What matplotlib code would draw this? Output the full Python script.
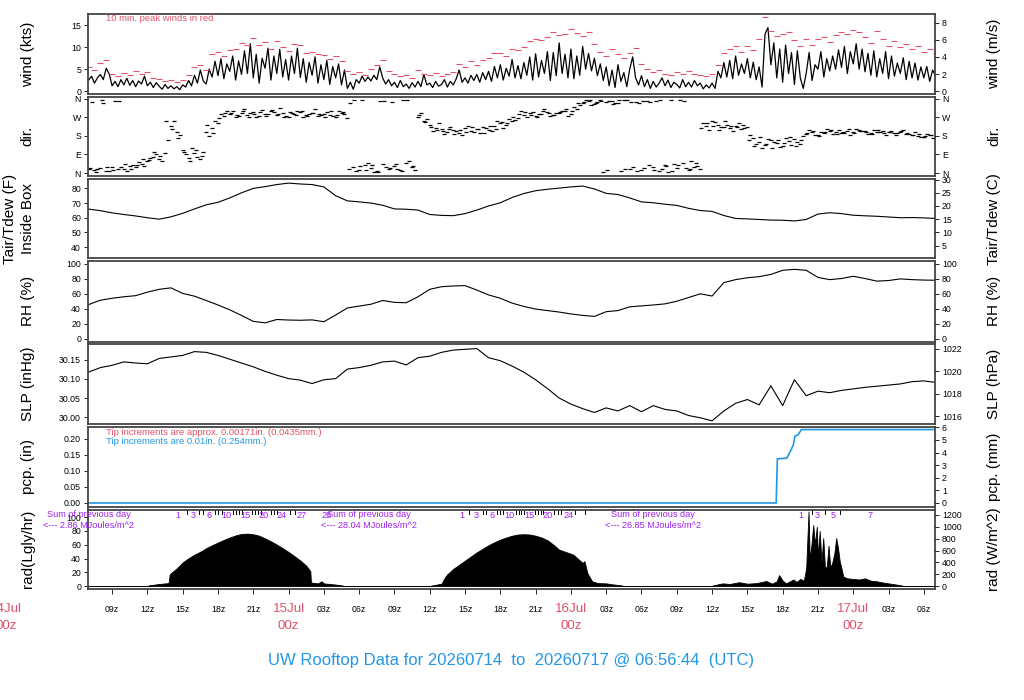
import numpy as np
import matplotlib
matplotlib.use("Agg")
import matplotlib.pyplot as plt
from matplotlib import transforms

plt.rcParams['font.family'] = ['Liberation Sans', 'DejaVu Sans']

FIG_W, FIG_H = 1024, 700
LEFT = 88 / FIG_W
WIDTH = 847 / FIG_W
T_START = 6.95   # hours after 14 Jul 00z
T_END = 78.95

RED = '#DF536B'
BLUE = '#2297E6'
PURPLE = '#A020F0'

# wind speed (kts), 15 min steps from 14 Jul 07z
wind_kts = [
    2.5, 3.4, 1.8, 3.0,  3.8, 2.6, 5.2, 3.9,  1.2, 2.2, 1.0, 2.6,  1.4, 2.9, 1.3, 2.4,
    1.0, 2.3, 1.6, 3.4,  1.2, 2.0, 0.8, 1.9,  1.1, 0.4, 1.5, 0.6,  1.2, 0.5, 1.0, 0.3,
    1.4, 0.9, 2.4, 1.2,  3.6, 1.8, 4.8, 2.3,  1.6, 5.0, 3.2, 6.8,  3.5, 7.4, 2.8, 6.2,
    4.5, 8.0, 2.5, 6.9,  3.8, 9.2, 4.0, 10.8, 3.0, 8.4, 1.8, 7.5,  5.2, 9.8, 2.5, 8.0,
    4.0, 9.5, 3.2, 7.2,  2.5, 8.0, 4.0, 9.8,  3.1, 7.4, 2.0, 6.5,  3.6, 7.8, 1.8, 6.0,
    2.6, 7.0, 1.5, 5.6,  3.0, 6.2, 1.4, 4.8,  0.6, 2.0, 0.4, 2.6,  1.8, 3.4, 2.2, 3.2,
    2.3, 3.6, 2.6, 5.5,  3.0, 1.6, 2.6, 1.2,  2.0, 0.8, 2.4, 1.0,  1.6, 0.6, 1.9, 0.9,
    2.2, 1.0, 3.8, 1.4,  1.8, 0.8, 2.2, 1.1,  1.5, 2.6, 0.9, 2.2,  1.4, 2.8, 4.8, 2.0,
    3.0, 1.8, 3.6, 2.4,  3.8, 2.0, 4.2, 2.6,  4.5, 2.2, 5.6, 3.0,  6.0, 2.5, 5.2, 3.4,
    7.2, 3.0, 5.8, 2.8,  6.5, 3.6, 7.8, 2.5,  8.5, 3.2, 7.0, 4.0,  9.0, 2.4, 8.8, 3.5,
    11.0, 4.0, 8.4, 3.0, 9.6, 2.8, 8.0, 3.6,  10.2, 5.0, 8.6, 4.6, 7.5, 3.5, 6.2, 2.4,
    5.5, 1.2, 4.8, 0.8,  6.0, 2.2, 4.2, 1.0,  5.0, 7.8, 3.0, 1.4,  3.5, 1.0, 2.6, 0.6,
    2.2, 0.9, 1.8, 3.0,  1.2, 2.5, 0.8, 2.0,  1.5, 0.7, 2.6, 1.0,  2.0, 0.9, 2.4, 1.2,
    1.8, 0.5, 1.4, 0.7,  1.8, 0.6, 4.5, 3.0,  6.5, 3.2, 7.0, 2.8,  8.0, 3.6, 6.2, 4.0,
    7.4, 3.0, 6.6, 2.6,  5.5, 0.9, 13.0, 14.5, 6.0, 11.0, 3.0, 9.6, 2.0, 10.5, 4.0, 8.8,
    1.5, 9.2, 3.0, 0.6,  4.0, 8.8, 2.4, 6.0,  5.0, 9.0, 3.2, 7.4,  4.6, 8.0, 5.0, 9.4,
    5.4, 10.2, 4.0, 9.0, 6.2, 10.8, 5.0, 9.6, 4.4, 8.6, 3.6, 9.2,  3.2, 7.4, 4.0, 9.0,
    2.8, 8.0, 3.4, 6.4,  4.0, 7.6, 2.6, 6.8,  3.0, 6.4, 2.5, 5.5,  3.0, 5.6, 2.2, 4.8,
    3.4,
]

# 10 min peak winds (kts), 30 min steps from 07z
peak_kts = [
    5.5, 4.8, 6.5, 7.2, 4.0, 3.5, 4.2, 3.6, 4.5, 3.8, 4.4, 3.0, 2.8, 2.2, 2.5, 2.0,
    2.6, 3.6, 5.5, 6.0, 4.8, 8.5, 9.0, 8.0, 9.4, 9.5, 11.0, 10.6, 12.2, 10.5, 11.2, 9.6,
    11.4, 10.0, 9.2, 10.8, 10.6, 8.6, 9.0, 8.4, 8.2, 7.4, 8.0, 6.8, 4.6, 3.8, 4.4, 3.6,
    5.0, 6.0, 7.2, 4.6, 4.0, 3.4, 3.6, 3.0, 4.8, 3.8, 3.6, 4.2, 3.4, 4.0, 4.4, 6.2,
    5.6, 6.8, 6.0, 7.0, 7.6, 8.6, 8.8, 8.0, 9.6, 9.4, 10.0, 11.5, 12.0, 11.6, 12.4, 13.6,
    12.8, 13.0, 14.2, 13.2, 12.6, 13.4, 10.8, 9.0, 8.0, 9.6, 8.4, 7.6, 8.6, 9.8, 6.2, 5.0,
    4.4, 4.8, 4.0, 3.6, 4.4, 3.8, 4.6, 4.0, 3.6, 3.4, 3.8, 6.0, 8.6, 9.6, 10.4, 9.0,
    10.2, 9.4, 11.8, 16.9, 13.8, 12.6, 13.0, 13.4, 11.6, 10.4, 12.0, 10.6, 11.8, 12.4, 11.2, 12.8,
    13.4, 13.0, 14.0, 13.6, 12.4, 11.0, 13.8, 12.0, 10.4, 11.4, 10.0, 10.8, 9.6, 10.4, 9.0, 9.6,
    8.8,
]

# wind direction (deg): readings at 07z + 30 min steps, and at +6 and +15 min offsets
dir_a = [
    20, 15, 25, 10, 30, 18, 22, 35, 28, 45, 60, 80, 70, 95, 230, 200,
    110, 75, 95, 70, 200, 220, 240, 275,
    285, 270, 290, 280, 295, 275, 285, 300, 280, 290, 270, 285, 295, 280, 290, 275,
    285, 280, 270, 290, 265,
    30, 15, 40, 25, 10, 45, 20, 35, 15, 50, 30,
    270, 250, 235, 220,
    215, 200, 210, 195, 220, 205, 215, 225, 210, 230, 240, 235, 250,
    265, 280, 290, 275, 285, 295, 280, 290, 300, 285, 310,
    340, 350, 335, 355, 345, 350, 340, 355, 20, 345, 15, 350, 30,
    10, 40, 355, 25, 50, 15, 30, 20,
    230, 250, 235, 225, 220, 230, 215, 225,
    170, 150, 135, 160, 145, 130, 155, 165, 140,
    190, 200, 185, 195, 205, 200, 195, 205, 200, 210, 205, 195, 200, 205, 200, 195,
    200, 190, 185, 180, 175, 185, 180,
]
dir_b = [
    345, 20, 340, 12, 350, 30, 8, 40,
    55, 35, 75, 90, 60, 160,
    250, 185,
    90, 120, 80, 100, 180, 250, 285, 300,
    300, 275, 310, 290, 270, 305, 285, 295, 315, 275, 290, 300, 270, 285, 310, 280,
    295, 275, 300, 285,
    340, 10, 355, 50, 5, 350, 30, 345, 20, 355, 60, 15,
    290, 260, 205, 240,
    190, 225, 205, 185, 230, 200, 195, 220, 205, 250, 220, 260,
    255, 300, 270, 295, 285, 310, 275, 290, 300, 275, 320, 330,
    355, 330, 345, 5, 350, 340, 10, 355, 30, 340, 25, 345,
    350, 20, 5, 45, 355, 25, 60, 35,
    240, 210, 245, 225, 235, 205, 240, 220,
    185, 140, 120, 165, 150, 125, 170, 135, 150, 180,
    210, 185, 200, 215, 190, 210, 195, 185, 215, 205, 190, 210, 200, 185, 205, 195,
    210, 190, 200, 175, 190, 170,
]
dir_c = [
    25, 5, 355, 30, 15, 350, 45, 20,
    40, 70, 65, 100, 85, 250,
    215, 170,
    100, 60, 110, 85, 235, 195, 265, 290,
    290, 280, 300, 270, 285, 295, 275, 305, 285, 270, 295, 280, 300, 275, 290, 285,
    270, 300, 280, 295,
    20, 355, 35, 15, 40, 5, 350, 25, 45, 10, 355, 35,
    280, 245, 225, 210,
    205, 215, 190, 210, 200, 225, 215, 195, 230, 215, 245, 240,
    270, 285, 295, 280, 270, 300, 290, 280, 295, 310, 300, 340,
    345, 355, 340, 350, 15, 335, 355, 20, 345, 10, 350, 40,
    15, 355, 35, 10, 40, 350, 20, 50,
    220, 240, 230, 210, 250, 230, 225, 235,
    160, 130, 175, 140, 120, 160, 145, 175, 130, 160,
    195, 205, 180, 200, 210, 190, 200, 215, 195, 205, 200, 190, 210, 195, 200, 185,
    205, 195, 185, 190, 180, 185,
]

# hourly values from 07z
temp_f = [
    65.9, 64.8, 63.3, 62.2, 61.2, 60.0, 59.0, 60.6, 63.0, 66.0, 68.8, 70.5, 73.5, 77.0, 80.0, 81.2,
    82.6, 83.6, 83.0, 82.6, 81.0, 75.0, 71.5, 70.8, 70.0, 68.5, 66.0, 65.8, 65.2, 62.2, 61.6, 61.4,
    62.8, 65.2, 68.0, 70.2, 73.8, 76.5, 78.4, 79.4, 80.2, 81.0, 81.6, 79.6, 76.6, 75.8, 73.5, 70.8,
    70.2, 69.2, 68.4, 66.4, 64.9, 64.3, 61.5, 59.5, 59.2, 58.8, 58.4, 58.3, 57.8, 58.8, 62.5, 63.4,
    62.8, 61.7, 61.3, 61.0, 60.5, 60.0, 60.1, 59.9, 59.5,
]
rh_pct = [
    45.5, 51.4, 54.0, 56.0, 57.5, 62.2, 66.0, 68.0, 60.5, 56.8, 51.0, 45.0, 38.5, 31.0, 23.0, 21.0,
    25.5, 24.8, 24.5, 25.0, 22.5, 31.5, 41.0, 43.5, 46.0, 51.0, 48.5, 48.0, 56.0, 66.0, 69.5, 70.5,
    71.0, 65.0, 58.5, 54.0, 47.5, 43.0, 39.5, 37.5, 35.5, 33.0, 31.0, 29.7, 36.0, 37.5, 42.5, 43.8,
    45.0, 46.5, 50.0, 55.0, 60.0, 57.0, 75.0, 79.0, 81.5, 83.0, 86.0, 91.5, 92.8, 91.5, 82.0, 79.0,
    80.5, 83.5, 80.5, 77.0, 77.8, 80.0, 79.0, 78.4, 78.2,
]
slp_inhg = [
    30.118, 30.130, 30.136, 30.145, 30.142, 30.140, 30.154, 30.158, 30.162, 30.172, 30.170, 30.162,
    30.152, 30.142, 30.132, 30.120, 30.110, 30.101, 30.097, 30.088, 30.098, 30.101, 30.126, 30.130,
    30.136, 30.145, 30.147, 30.137, 30.156, 30.160, 30.170, 30.176, 30.178, 30.180, 30.156, 30.148,
    30.134, 30.118, 30.098, 30.075, 30.050, 30.034, 30.022, 30.012, 30.024, 30.016, 30.030, 30.014,
    30.030, 30.020, 30.016, 30.004, 29.998, 29.990, 30.016, 30.036, 30.046, 30.032, 30.082, 30.030,
    30.098, 30.056, 30.068, 30.064, 30.070, 30.074, 30.078, 30.081, 30.084, 30.087, 30.093, 30.095,
    30.091,
]

# accumulated precipitation (in)
pcp_hours = [6.95, 65.45, 65.55, 66.35, 66.6, 66.9, 67.05, 67.3, 67.5, 67.6, 78.95]
pcp_in = [0.0, 0.0, 0.138, 0.140, 0.157, 0.181, 0.209, 0.213, 0.224, 0.2295, 0.2295]

# solar radiation (W/m^2)
rad_hours = [
    6.95, 12.0, 12.1, 13.0, 13.8, 13.9, 14.5, 15.0, 15.5, 16.0, 16.5, 17.0, 17.5, 18.0, 18.5, 19.0,
    19.5, 20.0, 20.5, 21.0, 21.5, 22.0, 22.5, 23.0, 23.5, 24.0, 24.5, 25.0, 25.5, 25.85, 25.9, 26.5,
    26.8, 27.0, 27.5, 28.0, 28.5, 28.8,
    36.0, 36.2, 37.0, 37.3, 37.5, 38.0, 38.5, 39.0, 39.5, 40.0, 40.5, 41.0, 41.5, 42.0, 42.5, 43.0,
    43.5, 44.0, 44.5, 45.0, 45.5, 46.0, 46.5, 47.0, 47.5, 48.2, 49.0, 49.15, 49.4, 49.8, 50.3, 51.0,
    51.5, 52.3, 52.5,
    60.0, 60.05, 60.9, 61.5, 62.3, 63.0, 63.8, 64.6, 65.1, 65.5, 65.7, 66.0, 66.3, 66.9, 67.2, 67.5,
    67.8, 68.0, 68.2, 68.3, 68.45, 68.6, 68.75, 68.9, 69.0, 69.15, 69.3, 69.45, 69.6, 69.75, 69.9,
    70.05, 70.2, 70.4, 70.55, 70.7, 70.85, 71.0, 71.15, 71.5, 72.0, 72.5, 73.0, 73.5, 74.0, 74.5,
    75.0, 75.5, 76.0, 76.3, 78.95,
]
rad_wm2 = [
    0, 0, 10, 35, 50, 200, 300, 400, 470, 530, 580, 640, 690, 735, 780, 820,
    855, 880, 885, 875, 850, 805, 755, 700, 640, 575, 505, 430, 345, 250, 60, 45,
    80, 45, 35, 25, 12, 0,
    0, 10, 40, 150, 200, 290, 360, 430, 500, 570, 630, 690, 740, 785, 820, 850,
    870, 875, 870, 850, 820, 775, 700, 615, 580, 530, 390, 420, 220, 80, 50, 45,
    30, 11, 0,
    0, 10, 45, 35, 65, 40, 50, 85, 40, 80, 185, 90, 45, 110, 70, 120,
    90, 300, 1260, 450, 700, 1030, 700, 1000, 500, 930, 400, 810, 300, 330, 680,
    320, 380, 560, 810, 650, 420, 300, 160, 130, 120, 110, 130, 90, 80, 60,
    45, 30, 15, 0, 0,
]

# times (h) at which each whole MJ/m^2 of the daily total was reached
mj_day1 = [14.62, 15.34, 15.90, 16.41, 16.75, 17.26, 17.74, 18.02, 18.31, 18.73, 19.24, 19.52,
           19.80, 20.01, 20.35, 20.86, 21.14, 21.42, 21.62, 21.90, 22.47, 22.75, 23.03, 23.43,
           24.11, 24.54, 25.11, 27.23]
mj_day2 = [38.70, 39.35, 39.97, 40.54, 40.82, 41.30, 41.72, 42.01, 42.23, 42.74, 43.31, 43.59,
           43.80, 43.99, 44.44, 44.93, 45.21, 45.44, 45.63, 46.06, 46.57, 46.91, 47.20, 47.82,
           48.33, 49.24]
mj_day3 = [67.53, 68.49, 68.95, 69.63, 70.27, 70.84, 73.45]
mj_labels = [[1, 3, 6, 10, 15, 20, 24, 27, 28], [1, 3, 6, 10, 15, 20, 24], [1, 3, 5, 7]]

sum_hours = [7.0, 30.85, 55.0]
sum_mj = ['2.86', '28.04', '26.85']

tick_hours = list(range(9, 79, 3))
day_hours = [0, 24, 48, 72]
day_names = ['14Jul', '15Jul', '16Jul', '17Jul']


fig = plt.figure(figsize=(FIG_W / 100, FIG_H / 100), dpi=100)


def add_panel(top, bot, ylim):
    ax = fig.add_axes([LEFT, 1 - bot / FIG_H, WIDTH, (bot - top) / FIG_H])
    ax.set_xlim(T_START, T_END)
    ax.set_ylim(*ylim)
    ax.set_xticks([])
    for s in ax.spines.values():
        s.set_linewidth(1.3)
        s.set_color('#444444')
    ax.tick_params(axis='y', labelsize=6.3, length=3, width=0.6, pad=2)
    return ax


def add_right(ax, conv, ticks, labels=None):
    ax2 = ax.twinx()
    lo, hi = ax.get_ylim()
    ax2.set_ylim(conv(lo), conv(hi))
    ax2.set_yticks(ticks)
    if labels is not None:
        ax2.set_yticklabels(labels)
    ax2.tick_params(axis='y', labelsize=6.3, length=3, width=0.6, pad=2)
    for s in ax2.spines.values():
        s.set_visible(False)
    return ax2


def side_labels(top, bot, left, right):
    yc = 1 - (top + bot) / 2 / FIG_H
    fig.text(0.027, yc, left, rotation=90, ha='center', va='center', fontsize=11)
    fig.text(0.971, yc, right, rotation=90, ha='center', va='center', fontsize=11)


# wind speed
ax = add_panel(14, 94, (-0.68, 17.6))
wt = 7 + 0.25 * np.arange(len(wind_kts))
pt = 7 + 0.5 * np.arange(len(peak_kts))
ax.plot(wt, wind_kts, color='black', lw=0.9)
ax.plot(pt, peak_kts, ls='none', marker='_', ms=4, mew=0.8, color=RED)
ax.set_yticks([0, 5, 10, 15])
ax.text(0.021, 0.94, '10 min. peak winds in red', transform=ax.transAxes,
        color=RED, fontsize=6.8, va='center')
add_right(ax, lambda v: v * 0.514444, [0, 2, 4, 6, 8])
side_labels(14, 94, 'wind (kts)', 'wind (m/s)')

# wind direction
ax = add_panel(96.5, 175.5, (-11.6, 370.6))
for d, t0 in [(dir_a, 7.0), (dir_b, 7.25), (dir_c, 7.1)]:
    ax.plot(t0 + 0.5 * np.arange(len(d)), d, ls='none', marker='_', ms=3,
            mew=0.9, color='black')
compass = ['N', 'E', 'S', 'W', 'N']
ax.set_yticks([0, 90, 180, 270, 360])
ax.set_yticklabels(compass)
add_right(ax, lambda v: v, [0, 90, 180, 270, 360], compass)
side_labels(96.5, 175.5, 'dir.', 'dir.')

# temperature
ax = add_panel(179, 258.5, (32.2, 86.4))
ax.plot(7 + np.arange(len(temp_f)), temp_f, color='black', lw=0.8)
ax.set_yticks([40, 50, 60, 70, 80])
add_right(ax, lambda v: (v - 32) * 5 / 9, [5, 10, 15, 20, 25, 30])
yc = 1 - (179 + 258.5) / 2 / FIG_H
fig.text(0.010, yc, 'Tair/Tdew (F)', rotation=90, ha='center', va='center', fontsize=11)
fig.text(0.027, yc, 'Inside Box', rotation=90, ha='center', va='center', fontsize=11)
fig.text(0.971, yc, 'Tair/Tdew (C)', rotation=90, ha='center', va='center', fontsize=11)

# relative humidity
ax = add_panel(261, 341.5, (-4, 104))
ax.plot(7 + np.arange(len(rh_pct)), rh_pct, color='black', lw=0.8)
ax.set_yticks(range(0, 101, 20))
add_right(ax, lambda v: v, range(0, 101, 20))
side_labels(261, 341.5, 'RH (%)', 'RH (%)')

# pressure
ax = add_panel(344, 423.5, (29.983, 30.192))
ax.plot(7 + np.arange(len(slp_inhg)), slp_inhg, color='black', lw=0.8)
ax.set_yticks([30.00, 30.05, 30.10, 30.15])
ax.set_yticklabels(['30.00', '30.05', '30.10', '30.15'])
add_right(ax, lambda v: v * 33.8639, [1016, 1018, 1020, 1022])
side_labels(344, 423.5, 'SLP (inHg)', 'SLP (hPa)')

# precipitation
ax = add_panel(426.5, 507, (-0.0125, 0.239))
ax.plot(pcp_hours, pcp_in, color=BLUE, lw=1.2)
ax.set_yticks([0, 0.05, 0.10, 0.15, 0.20])
ax.set_yticklabels(['0.00', '0.05', '0.10', '0.15', '0.20'])
ax.text(0.021, 0.92, 'Tip increments are approx. 0.00171in. (0.0435mm.)',
        transform=ax.transAxes, color=RED, fontsize=6.8, va='center')
ax.text(0.021, 0.81, 'Tip increments are 0.01in. (0.254mm.)',
        transform=ax.transAxes, color=BLUE, fontsize=6.8, va='center')
add_right(ax, lambda v: v * 25.4, range(0, 7))
side_labels(426.5, 507, 'pcp. (in)', 'pcp. (mm)')

# radiation
ax = add_panel(509.5, 589, (-4.3, 111.2))
rad_ly = np.array(rad_wm2) / 11.622
ax.fill_between(rad_hours, 0, rad_ly, color='black', lw=0.6)
ax.set_yticks(range(0, 101, 20))
add_right(ax, lambda v: v * 11.622, range(0, 1201, 200))
side_labels(509.5, 589, 'rad(Lgly/hr)', 'rad (W/m^2)')

top_tr = transforms.blended_transform_factory(ax.transData, ax.transAxes)
for hours, labels in zip([mj_day1, mj_day2, mj_day3], mj_labels):
    for i, h in enumerate(hours, start=1):
        if i in labels:
            ax.text(h, 0.925, str(i), transform=top_tr, color=PURPLE, fontsize=6.6,
                    ha='center', va='center')
        else:
            ax.plot([h, h], [1.0, 0.94], transform=top_tr, color='black', lw=0.7)
for h, s in zip(sum_hours, sum_mj):
    ax.text(h, 0.935, 'Sum of previous day', transform=top_tr, color=PURPLE,
            fontsize=6.6, ha='center', va='center', clip_on=False)
    ax.text(h, 0.80, '<--- ' + s + ' MJoules/m^2', transform=top_tr, color=PURPLE,
            fontsize=6.6, ha='center', va='center', clip_on=False)

ax.set_xticks(tick_hours)
ax.set_xticklabels(['' if h % 24 == 0 else '%02dz' % (h % 24) for h in tick_hours])
ax.tick_params(axis='x', labelsize=6.3, length=3.6, width=0.6, pad=8)

date_tr = transforms.blended_transform_factory(ax.transData, fig.transFigure)
for h, name in zip(day_hours, day_names):
    fig.text(h, 1 - 609 / FIG_H, name, transform=date_tr, color=RED, fontsize=9.6,
             ha='center', va='center')
    fig.text(h, 1 - 626 / FIG_H, '00z', transform=date_tr, color=RED, fontsize=9.6,
             ha='center', va='center')

fig.text(0.499, 1 - 660 / FIG_H,
         'UW Rooftop Data for 20260714  to  20260717 @ 06:56:44  (UTC)',
         color=BLUE, fontsize=12, ha='center', va='center')

fig.savefig('out.png', dpi=100)
